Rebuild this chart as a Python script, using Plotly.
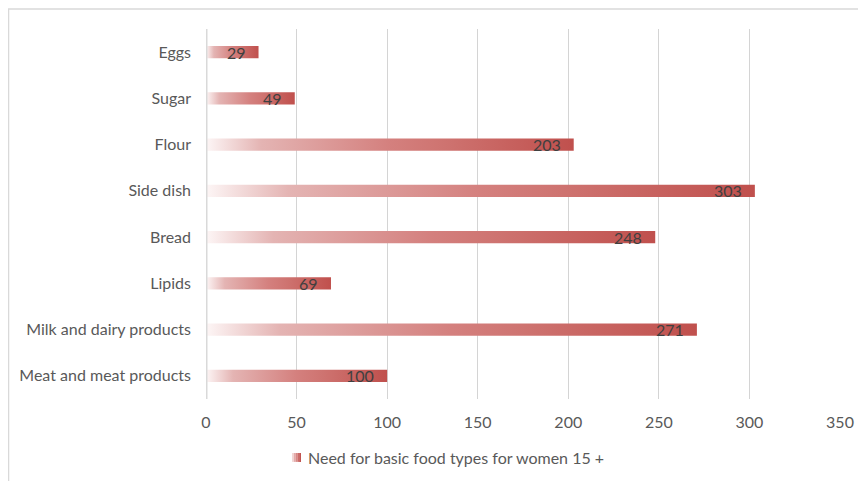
import plotly.graph_objects as go

# Data (bottom to top as displayed)
categories = ["Meat and meat products", "Milk and dairy products", "Lipids", "Bread",
              "Side dish", "Flour", "Sugar", "Eggs"]
values = [100, 271, 69, 248, 303, 203, 49, 29]
x_ticks = [0, 50, 100, 150, 200, 250, 300, 350]
series_name = "Need for basic food types for women 15 +"

FONT = "Lato, 'Open Sans', sans-serif"
HALF = 0.135
scale = [[0, "#fdf6f6"], [0.15, "#e4b4b3"], [0.5, "#d4807e"], [0.65, "#ce7370"], [1, "#c0504d"]]

fig = go.Figure()
for i, (cat, v) in enumerate(zip(categories, values)):
    fig.add_trace(go.Scatter(
        x=[0, v, v, 0, 0],
        y=[i - HALF, i - HALF, i + HALF, i + HALF, i - HALF],
        mode="lines",
        line=dict(width=0, color="#c0504d"),
        fill="toself",
        fillgradient=dict(type="horizontal", colorscale=scale, start=0, stop=v),
        showlegend=False,
        hoverinfo="skip",
    ))
    fig.add_annotation(x=v, y=i, text=str(v), showarrow=False, xanchor="right",
                       xshift=-11, yshift=0,
                       font=dict(family=FONT, size=16, color="#404040"))

# custom legend: gradient square made of strips + text
legend_strips = ["#f2d6d5", "#e3aaa9", "#d78886", "#cc6b68", "#c0504d"]
lx0, lx1, ly0, ly1 = 0.1356, 0.1498, -0.170, -0.146
shapes = []
n = len(legend_strips)
for k, c in enumerate(legend_strips):
    shapes.append(dict(type="rect", xref="paper", yref="paper",
                       x0=lx0 + (lx1 - lx0) * k / n, x1=lx0 + (lx1 - lx0) * (k + 1) / n,
                       y0=ly0, y1=ly1, line=dict(width=0), fillcolor=c, layer="above"))
fig.add_annotation(xref="paper", yref="paper", x=0.1577, y=-0.158, text=series_name,
                   showarrow=False, xanchor="left", yanchor="middle",
                   font=dict(family=FONT, size=16, color="#595959"))

shapes += [
    dict(type="line", xref="x", yref="paper", x0=0, x1=0, y0=0, y1=1,
         line=dict(color="#d9d9d9", width=3), layer="above"),
    dict(type="rect", xref="paper", yref="paper", x0=-0.3115, x1=1.08, y0=-0.4, y1=1.054,
         line=dict(color="#d9d9d9", width=1.5), layer="below"),
]

fig.update_layout(
    width=858, height=473,
    margin=dict(l=198, r=26, t=21, b=82),
    paper_bgcolor="white", plot_bgcolor="white",
    font=dict(family=FONT, size=16, color="#595959"),
    showlegend=False,
    xaxis=dict(range=[0, 350], tickvals=x_ticks, showgrid=True, gridcolor="#d4d4d4",
               gridwidth=1, zeroline=False, showline=False, ticks="",
               ticklabelstandoff=12, fixedrange=True),
    yaxis=dict(range=[-0.5, 7.5], tickvals=list(range(len(categories))), ticktext=categories,
               showgrid=False, zeroline=False, showline=False, ticks="",
               ticklabelstandoff=14, fixedrange=True),
    shapes=shapes,
)

fig.write_html("out.html")
